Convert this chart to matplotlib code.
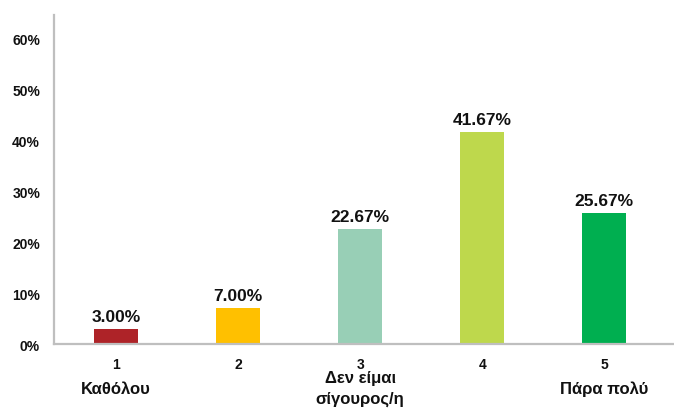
import matplotlib
matplotlib.use("Agg")
import matplotlib.pyplot as plt
from matplotlib.ticker import FuncFormatter

plt.rcParams['font.family'] = ['Liberation Sans', 'DejaVu Sans']

numbers = ["1", "2", "3", "4", "5"]
names = ["Καθόλου", "", "Δεν είμαι\nσίγουρος/η", "", "Πάρα πολύ"]
values = [3.00, 7.00, 22.67, 41.67, 25.67]
colors = ["#AE2328", "#FFC000", "#98CFB6", "#BED84C", "#00AF50"]

fig = plt.figure(figsize=(6.74, 4.10), dpi=100)
ax = fig.add_axes([0.0801, 0.1585, 0.9199, 0.961 - 0.1585])

x = list(range(len(values)))
ax.bar(x, values, width=0.36, color=colors, zorder=2)

for xi, v in zip(x, values):
    ax.annotate(f"{v:.2f}%", (xi, v), xytext=(0, 5.8), textcoords="offset points",
                ha="center", va="baseline", fontsize=12.5, fontweight="bold", color="#111111")

ax.set_xlim(-0.508, 4.57)
ax.set_ylim(0, 64.7)
ax.set_yticks([0, 10, 20, 30, 40, 50, 60])
ax.yaxis.set_major_formatter(FuncFormatter(lambda v, p: f"{v:.0f}%"))
ax.set_xticks(x)
ax.set_xticklabels(numbers)
ax.tick_params(axis="y", length=0, pad=10, labelsize=10)
ax.tick_params(axis="x", length=0, pad=9, labelsize=10)
for lab in ax.get_xticklabels() + ax.get_yticklabels():
    lab.set_fontweight("bold")
    lab.set_color("#111111")

for xi, n in zip(x, names):
    if n:
        ax.annotate(n, (xi, 0), xytext=(0, -44), textcoords="offset pixels",
                    ha="center", va="center", fontsize=12, fontweight="bold",
                    color="#111111", annotation_clip=False, linespacing=1.4)

for s in ["top", "right"]:
    ax.spines[s].set_visible(False)
for s in ["left", "bottom"]:
    ax.spines[s].set_color("#BFBFBF")
    ax.spines[s].set_linewidth(1.6)

fig.savefig("out.png", dpi=100)
